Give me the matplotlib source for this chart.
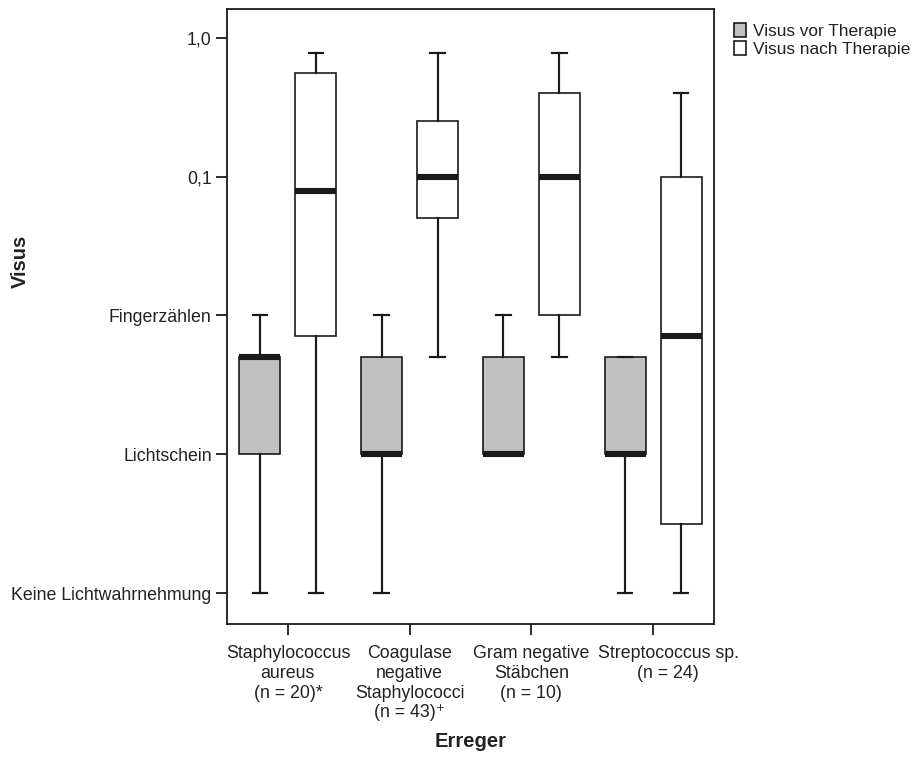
import matplotlib
matplotlib.use("Agg")
import matplotlib.pyplot as plt
import matplotlib.transforms as mtransforms
from matplotlib.patches import Patch

plt.rcParams["font.family"] = ["Liberation Sans", "DejaVu Sans"]

# categories on the x axis
erreger = [
    "Staphylococcus\naureus\n(n = 20)*",
    "Coagulase\nnegative\nStaphylococci\n(n = 43)\u207a",
    "Gram negative\nStäbchen\n(n = 10)",
    "Streptococcus sp.\n(n = 24)",
]

# ordinal visus scale (0 = Keine Lichtwahrnehmung ... 4 = 1,0)
visus_ticks = [0, 1, 2, 3, 4]
visus_labels = ["Keine Lichtwahrnehmung", "Lichtschein", "Fingerzählen", "0,1", "1,0"]

# box statistics, in visus-scale units
vor_whislo = [0.0, 0.0, 1.0, 0.0]
vor_q1 = [1.0, 1.0, 1.0, 1.0]
vor_med = [1.70, 1.0, 1.0, 1.0]
vor_q3 = [1.70, 1.70, 1.70, 1.70]
vor_whishi = [2.0, 2.0, 2.0, 1.70]

nach_whislo = [0.0, 1.70, 1.70, 0.0]
nach_q1 = [1.85, 2.70, 2.0, 0.50]
nach_med = [2.90, 3.0, 3.0, 1.85]
nach_q3 = [3.75, 3.40, 3.60, 3.0]
nach_whishi = [3.89, 3.89, 3.89, 3.60]


def make_stats(lo, q1, med, q3, hi):
    return [
        {"whislo": a, "q1": b, "med": c, "q3": d, "whishi": e, "fliers": []}
        for a, b, c, d, e in zip(lo, q1, med, q3, hi)
    ]


fig = plt.figure(figsize=(9.18, 7.59), dpi=100)
ax = fig.add_axes([0.2473, 0.1779, 0.5305, 0.8103])

edge = "#1a1a1a"
lw = 1.2
common = dict(
    widths=0.336,
    capwidths=0.12,
    patch_artist=True,
    showfliers=False,
    whiskerprops=dict(color=edge, linewidth=lw * 1.3),
    capprops=dict(color=edge, linewidth=lw * 1.3),
    medianprops=dict(color=edge, linewidth=4.4, solid_capstyle="butt"),
)

groups = list(range(len(erreger)))
off = 0.23
ax.bxp(
    make_stats(vor_whislo, vor_q1, vor_med, vor_q3, vor_whishi),
    positions=[g - off for g in groups],
    boxprops=dict(facecolor="#c0c0c0", edgecolor=edge, linewidth=lw),
    **common,
)
ax.bxp(
    make_stats(nach_whislo, nach_q1, nach_med, nach_q3, nach_whishi),
    positions=[g + off for g in groups],
    boxprops=dict(facecolor="white", edgecolor=edge, linewidth=lw),
    **common,
)

ax.set_xlim(-0.5, 3.5)
ax.set_ylim(-0.223, 4.209)
ax.set_xticks(groups)
ax.set_xticklabels(erreger, fontsize=12.8, linespacing=1.22, color="#222222")
ax.set_yticks(visus_ticks)
ax.set_yticklabels(visus_labels, fontsize=12.8, color="#222222")
ax.tick_params(axis="both", direction="out", length=8, width=1.3, color=edge)
ax.tick_params(axis="x", pad=7)
ax.tick_params(axis="y", pad=3)
for s in ax.spines.values():
    s.set_linewidth(1.3)
    s.set_color(edge)

# last category label sits a little right of its tick in the original
shift = mtransforms.ScaledTranslation(0.15, 0, fig.dpi_scale_trans)
last = ax.get_xticklabels()[-1]
last.set_transform(last.get_transform() + shift)

ax.set_ylabel("Visus", fontsize=14.5, fontweight="bold", color="#222222")
ax.set_xlabel("Erreger", fontsize=14.5, fontweight="bold", color="#222222")
ax.yaxis.set_label_coords(-0.405, 0.59)
ax.xaxis.set_label_coords(0.5, -0.176)

handles = [
    Patch(facecolor="#c0c0c0", edgecolor=edge, linewidth=1.2, label="Visus vor Therapie"),
    Patch(facecolor="white", edgecolor=edge, linewidth=1.2, label="Visus nach Therapie"),
]
fig.legend(
    handles=handles,
    loc="upper left",
    bbox_to_anchor=(0.786, 0.985),
    frameon=False,
    fontsize=12.4,
    handlelength=0.7,
    handleheight=0.85,
    handletextpad=0.4,
    labelspacing=0.1,
    borderpad=0.2,
    labelcolor="#222222",
)

fig.savefig("out.png", dpi=100)
